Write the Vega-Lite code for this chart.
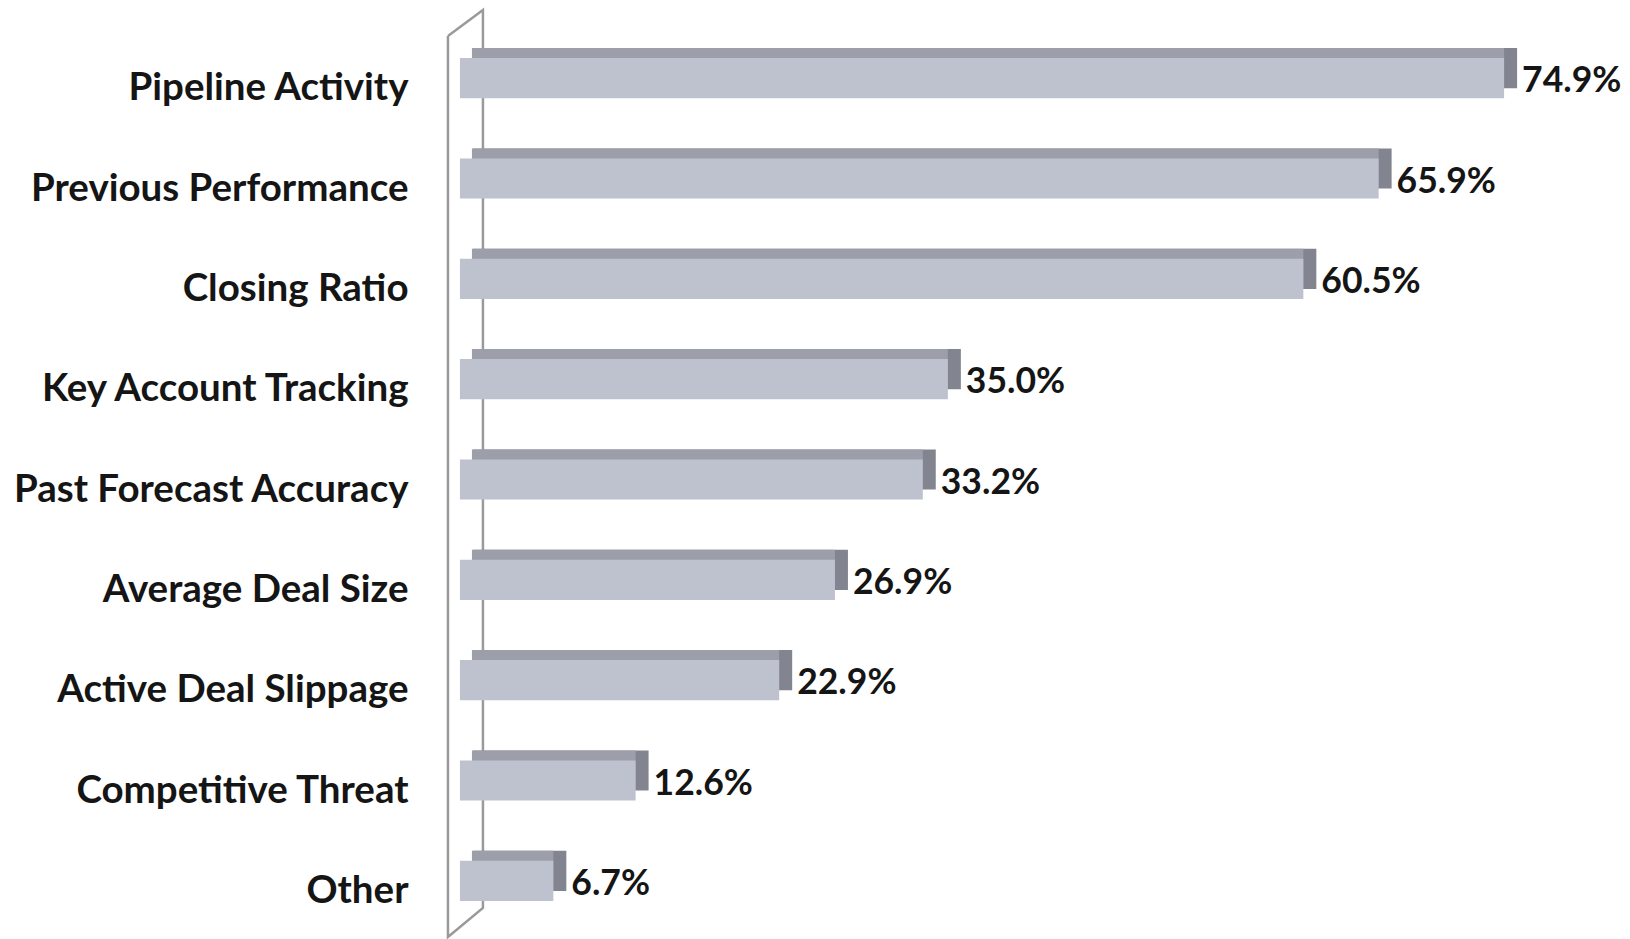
{
  "$schema": "https://vega.github.io/schema/vega-lite/v6.json",
  "autosize": {"type": "none"},
  "padding": {"left": 446, "top": 28, "right": 13, "bottom": 8},
  "width": 1171,
  "height": 903,
  "background": "white",
  "config": {"view": {"stroke": null}, "font": "Lato"},
  "datasets": {
    "bars": [
      {"factor": "Pipeline Activity", "pct": 74.9},
      {"factor": "Previous Performance", "pct": 65.9},
      {"factor": "Closing Ratio", "pct": 60.5},
      {"factor": "Key Account Tracking", "pct": 35.0},
      {"factor": "Past Forecast Accuracy", "pct": 33.2},
      {"factor": "Average Deal Size", "pct": 26.9},
      {"factor": "Active Deal Slippage", "pct": 22.9},
      {"factor": "Competitive Threat", "pct": 12.6},
      {"factor": "Other", "pct": 6.7}
    ],
    "frame": [
      {"fx": -0.86, "fy": -0.42, "k": 0},
      {"fx": 1.65, "fy": -0.68, "k": 1},
      {"fx": 1.65, "fy": 8.27, "k": 2},
      {"fx": -0.86, "fy": 8.56, "k": 3},
      {"fx": -0.86, "fy": -0.42, "k": 4}
    ]
  },
  "layer": [
    {
      "data": {"name": "frame"},
      "mark": {"type": "line", "stroke": "#9a9a9a", "strokeWidth": 2.5, "clip": false},
      "encoding": {
        "x": {"field": "fx", "type": "quantitative", "scale": {"domain": [-1, 83], "nice": false, "zero": false}, "axis": null},
        "y": {"field": "fy", "type": "quantitative", "scale": {"domain": [-0.5, 8.5], "reverse": true, "nice": false, "zero": false}, "axis": null},
        "order": {"field": "k", "type": "quantitative"}
      }
    },
    {
      "data": {"name": "bars"},
      "transform": [{"calculate": "format(datum.pct, '.1f') + '%'", "as": "label"}],
      "encoding": {
        "y": {
          "field": "factor", "type": "nominal", "sort": null,
          "scale": {"paddingInner": 0.6, "paddingOuter": 0.3},
          "axis": {
            "title": null, "domain": false, "ticks": false,
            "labelFont": "Lato", "labelFontSize": 38.5, "labelFontWeight": "bold",
            "labelColor": "#151515", "labelPadding": 38, "labelOffset": 10,
            "labelLimit": 600
          }
        }
      },
      "layer": [
        {
          "mark": {"type": "bar", "color": "#82858f", "xOffset": 13, "x2Offset": 13, "yOffset": -10, "y2Offset": -10},
          "encoding": {
            "x": {"field": "pct", "type": "quantitative", "scale": {"domain": [-1, 83], "nice": false, "zero": false}, "axis": null},
            "x2": {"datum": 0}
          }
        },
        {
          "mark": {"type": "bar", "color": "#9c9fa9", "xOffset": 0, "x2Offset": 12, "yOffset": -10, "y2Offset": -10},
          "encoding": {
            "x": {"field": "pct", "type": "quantitative", "axis": null},
            "x2": {"datum": 0}
          }
        },
        {
          "mark": {"type": "bar", "color": "#bec2cf"},
          "encoding": {
            "x": {"field": "pct", "type": "quantitative", "axis": null},
            "x2": {"datum": 0}
          }
        },
        {
          "mark": {"type": "text", "align": "left", "baseline": "middle", "dx": 18, "dy": 3, "font": "Lato", "fontSize": 35.5, "fontWeight": "bold", "color": "#151515"},
          "encoding": {
            "x": {"field": "pct", "type": "quantitative", "axis": null},
            "text": {"field": "label"}
          }
        }
      ]
    }
  ],
  "resolve": {"scale": {"y": "independent"}}
}
